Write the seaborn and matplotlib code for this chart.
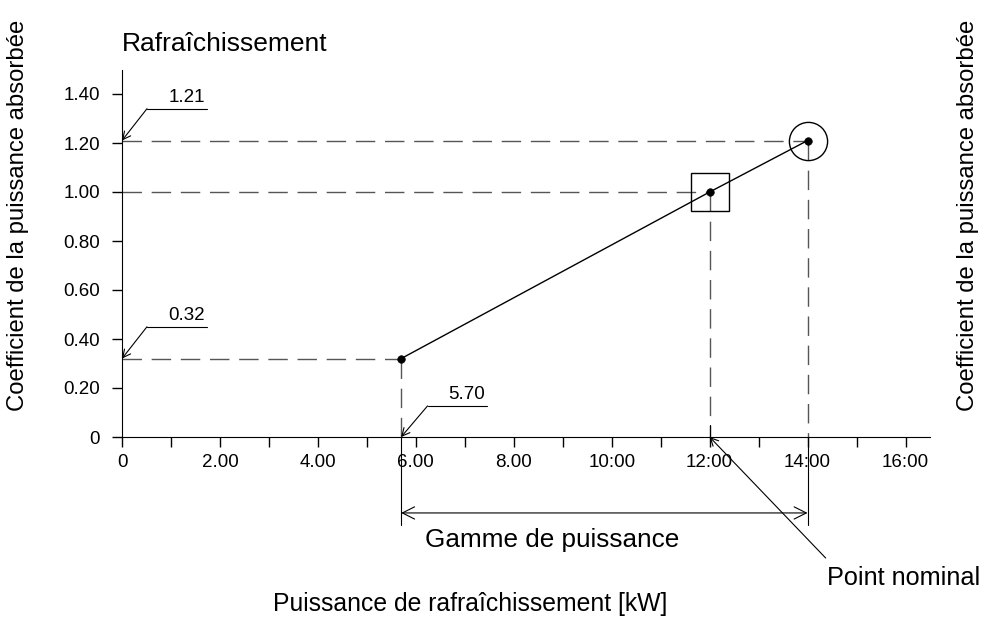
import numpy as np
import pandas as pd
import seaborn as sns
import matplotlib.pyplot as plt

# Donnees
puissance = [5.70, 12.00, 14.00]
coefficient = [0.32, 1.00, 1.21]
xticks = [0, 2, 4, 6, 8, 10, 12, 14, 16]
xticklabels = ["0", "2.00", "4.00", "6.00", "8.00", "10:00", "12:00", "14:00", "16:00"]
yticks = [0, 0.2, 0.4, 0.6, 0.8, 1.0, 1.2, 1.4]
yticklabels = ["0", "0.20", "0.40", "0.60", "0.80", "1.00", "1.20", "1.40"]

df = pd.DataFrame({"x": puissance, "y": coefficient})

sns.set_style("ticks")
plt.rcParams['font.family'] = ['Liberation Sans', 'DejaVu Sans']
plt.rcParams['text.color'] = 'black'
plt.rcParams['xtick.color'] = 'black'
plt.rcParams['ytick.color'] = 'black'

fig = plt.figure(figsize=(9.86, 6.23), dpi=100)
ax = fig.add_axes([122/986, (623-437)/623, (930-122)/986, (437-69.5)/623])
ax.set_xlim(0, 16.5)
ax.set_ylim(0, 1.5)

dash = dict(color="#555555", lw=1, dashes=(14, 7))
# lignes de rappel en pointilles
for xv, yv in zip(puissance, coefficient):
    ax.plot([0, xv], [yv, yv], **dash, zorder=1)
    ax.plot([xv, xv], [yv, 0], **dash, zorder=1)

sns.lineplot(data=df, x="x", y="y", color="black", lw=1, ax=ax, zorder=3)
sns.scatterplot(data=df, x="x", y="y", color="black", s=30, edgecolor="black", ax=ax, zorder=4)

# carre au point nominal, cercle au point max
ax.plot(puissance[1], coefficient[1], marker="s", ms=27.5, mfc="none", mec="black", mew=1, zorder=4)
ax.plot(puissance[2], coefficient[2], marker="o", ms=27.5, mfc="none", mec="black", mew=1, zorder=4)

sns.despine(ax=ax)
ax.spines["left"].set_color("black")
ax.spines["bottom"].set_color("black")
ax.set_xticks(np.arange(0, 17, 1), minor=True)
ax.set_xticks(xticks)
ax.set_xticklabels(xticklabels, fontsize=13.5)
ax.set_yticks(yticks)
ax.set_yticklabels(yticklabels, fontsize=13.5)
ax.tick_params(which="both", direction="out", length=7, width=1)
ax.tick_params(axis="x", pad=5)
ax.tick_params(axis="y", pad=9)
ax.set_xlabel("")
ax.set_ylabel("")

# annotations avec fleche
def repere(tip, coude, fin, texte):
    ax.annotate("", xy=tip, xytext=coude, xycoords="data",
                arrowprops=dict(arrowstyle="->", lw=0.8, color="black",
                                mutation_scale=14, shrinkA=0, shrinkB=0),
                annotation_clip=False)
    ax.plot([coude[0], fin[0]], [coude[1], fin[1]], color="black", lw=0.8, clip_on=False)
    ax.text(fin[0] - 0.04, coude[1] + 0.012, texte, ha="right", va="bottom", fontsize=13.5)

repere((0, 1.21), (0.51, 1.34), (1.73, 1.34), "1.21")
repere((0, 0.32), (0.51, 0.45), (1.73, 0.45), "0.32")
repere((5.70, 0), (6.24, 0.127), (7.45, 0.127), "5.70")

# lignes d'attache et cote de la gamme
for xv in [puissance[0], puissance[2]]:
    ax.plot([xv, xv], [0, -0.36], color="black", lw=0.8, clip_on=False)
ax.plot([12, 12], [0, 0.05], color="black", lw=0.8, clip_on=False)
ax.annotate("", xy=(puissance[0], -0.31), xytext=(puissance[2], -0.31),
            arrowprops=dict(arrowstyle="<->", lw=0.8, color="black", mutation_scale=22,
                            shrinkA=0, shrinkB=0), annotation_clip=False)
ax.text(8.78, -0.42, "Gamme de puissance", ha="center", va="center", fontsize=18.8)

# point nominal
ax.annotate("", xy=(12, 0), xytext=(14.37, -0.494),
            arrowprops=dict(arrowstyle="->", lw=0.8, color="black", mutation_scale=14,
                            shrinkA=0, shrinkB=0), annotation_clip=False)
ax.text(14.4, -0.575, "Point nominal", ha="left", va="center", fontsize=18.2)

fig.text(122/986, 1 - 44/623, "Rafraîchissement", ha="left", va="center", fontsize=19)
fig.text(18/986, 1 - 215/623, "Coefficient de la puissance absorbée", rotation=90,
         ha="center", va="center", fontsize=17.2)
fig.text(968/986, 1 - 215/623, "Coefficient de la puissance absorbée", rotation=90,
         ha="center", va="center", fontsize=17.2)
fig.text(470/986, 1 - 604/623, "Puissance de rafraîchissement [kW]", ha="center",
         va="center", fontsize=17.8)

fig.savefig("out.png", dpi=100)
